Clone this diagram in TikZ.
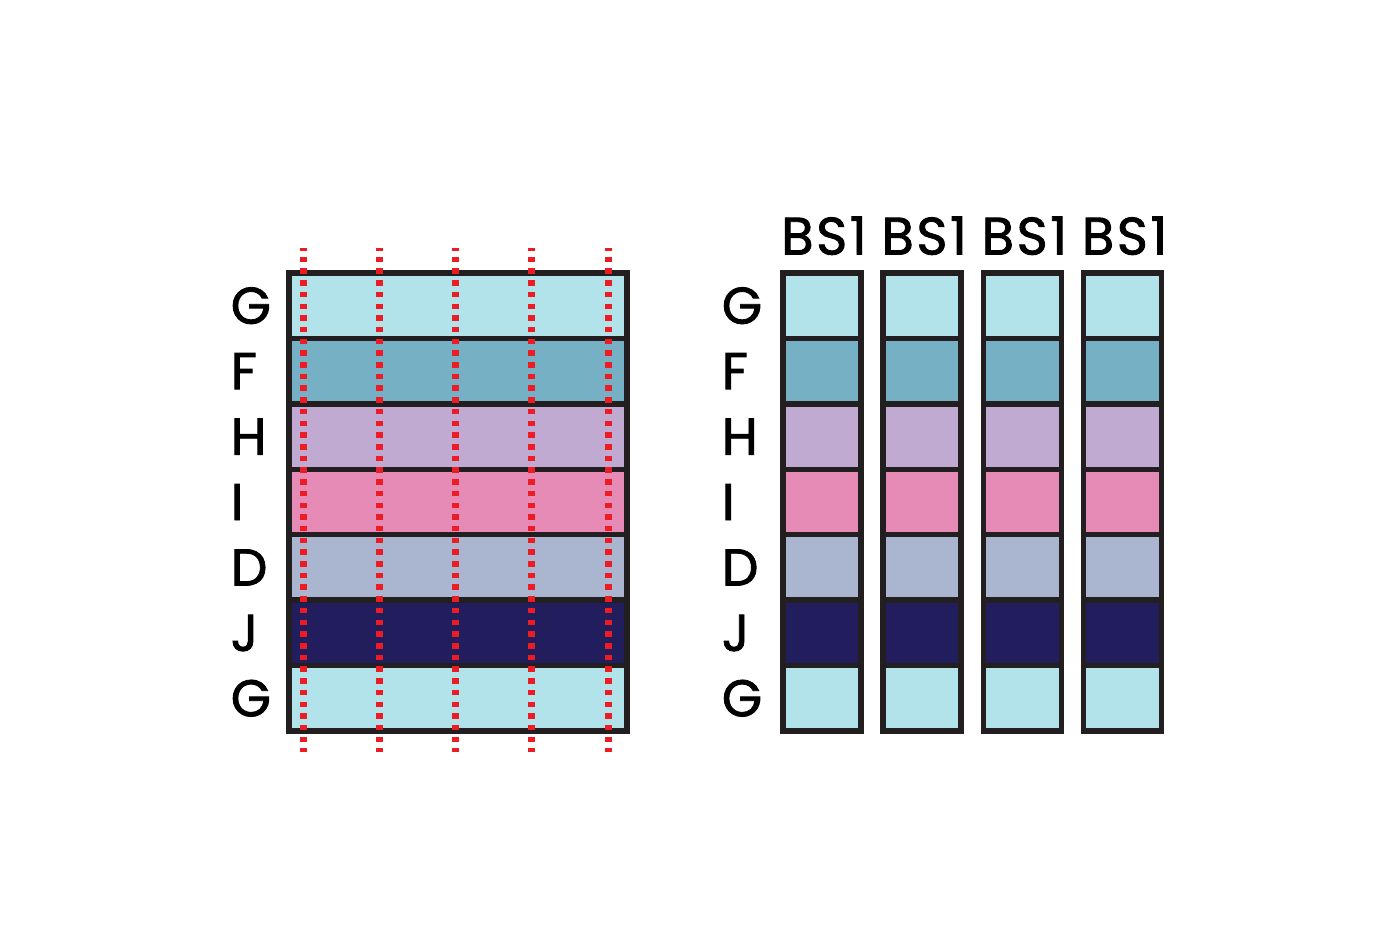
\documentclass[tikz,border=0pt]{standalone}
\usepackage{fontspec}
\setmainfont{Poppins}
\newfontfamily\labelfont[FakeBold=1.6]{Poppins}
\usetikzlibrary{positioning}
\definecolor{edge}{HTML}{231F20}
\definecolor{cutred}{HTML}{EC1C24}
\definecolor{bandG}{HTML}{B2E2EA}
\definecolor{bandF}{HTML}{75B0C5}
\definecolor{bandH}{HTML}{C0AAD1}
\definecolor{bandI}{HTML}{E58BB6}
\definecolor{bandD}{HTML}{AAB6CF}
\definecolor{bandJ}{HTML}{221E5E}
\begin{document}
\begin{tikzpicture}[
    x=0.01cm,
    y=-0.01cm,
    band/.style={
        draw=edge,
        line width=0.055cm,
        inner sep=0,
        minimum height=0.654cm
    },
    wide band/.style={band, minimum width=3.38cm},
    narrow band/.style={band, minimum width=0.78cm},
    letter/.style={
        inner sep=0,
        font=\labelfont\fontsize{14.7}{16}\selectfont,
        text height=0.36cm,
        text depth=0pt
    },
    strip title/.style={
        letter,
        font=\labelfont\fontsize{15}{16}\selectfont\addfontfeature{LetterSpace=5}
    },
    cut/.style={
        draw=cutred,
        line width=0.07cm,
        dash pattern=on 0.055cm off 0.062cm,
        dash phase=0.03cm
    }
]
\useasboundingbox (0,0) rectangle (1400,933);
% whole sheet on the left
\foreach \fillc [count=\i] in {bandG,bandF,bandH,bandI,bandD,bandJ,bandG}
    \node[wide band, fill=\fillc] (row\i) at (458, 240.3+65.43*\i) {};
\foreach \lab [count=\i] in {G,F,H,I,D,J,G}
    \node[letter, anchor=west] (lab\i) at ([xshift=-0.56cm]row\i.west) {\lab};
% cut lines
\foreach \k in {1,...,5} {
    \coordinate (cut\k top) at (226.75+76.25*\k, 248);
    \coordinate (cut\k bot) at (226.75+76.25*\k, 752);
    \draw[cut] (cut\k top) -- (cut\k bot);
}
% strips on the right
\foreach \j in {1,...,4} {
    \foreach \fillc [count=\i] in {bandG,bandF,bandH,bandI,bandD,bandJ,bandG}
        \node[narrow band, fill=\fillc] (cell\j-\i) at (721.8+100.2*\j, 240.3+65.43*\i) {};
    \node[strip title, above=0.15cm of cell\j-1, xshift=0.02cm] (title\j) {BS1};
}
\foreach \lab [count=\i] in {G,F,H,I,D,J,G}
    \node[letter, anchor=west] (rlab\i) at ([xshift=-0.59cm]cell1-\i.west) {\lab};
\end{tikzpicture}
\end{document}
